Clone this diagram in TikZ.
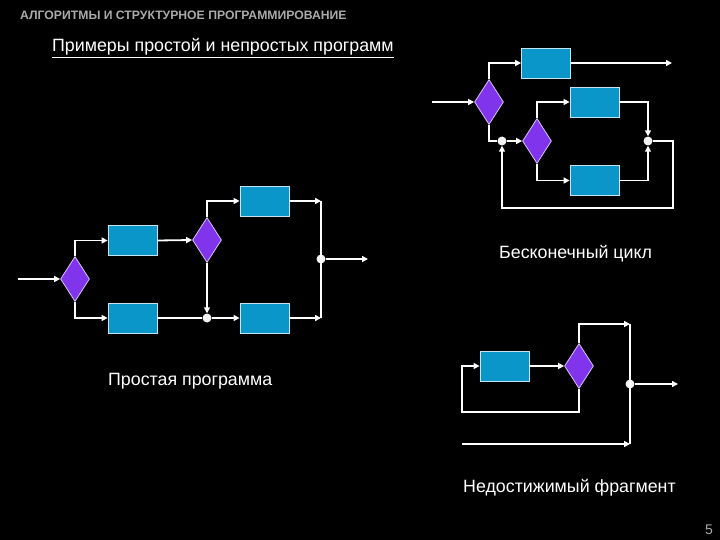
\documentclass[tikz,border=0pt]{standalone}
\usepackage{fontspec}
\setmainfont{Liberation Sans}
\usetikzlibrary{shapes.geometric,arrows.meta}
\definecolor{boxc}{RGB}{10,150,200}
\definecolor{diac}{RGB}{128,52,235}
\definecolor{titc}{RGB}{170,170,170}
\begin{document}
\begin{tikzpicture}[x=1pt,y=-1pt,
  line/.style={draw=white,line width=1.8pt},
  arr/.style={line,-{Triangle[length=6pt,width=6pt]}},
  blk/.style={draw=white!75!boxc,line width=0.8pt,fill=boxc,minimum width=49pt,minimum height=30pt,inner sep=0pt},
  dia/.style={diamond,draw=white!70!diac,line width=0.8pt,fill=diac,minimum width=29pt,minimum height=45pt,inner sep=0pt},
  dot/.style={circle,fill=white!90!gray,minimum size=9pt,inner sep=0pt},
  lbl/.style={text=white,font=\fontsize{17.8}{20}\selectfont,inner sep=0pt,anchor=west}]
\fill[black] (0,0) rectangle (720,540);
\useasboundingbox (0,0) rectangle (720,540);
% titles
\node[anchor=west,inner sep=0pt,text=titc,font=\bfseries\fontsize{12.2}{14}\selectfont] (title) at (20,15) {АЛГОРИТМЫ И СТРУКТУРНОЕ ПРОГРАММИРОВАНИЕ};
\node[anchor=west,inner sep=0pt,text=white,font=\fontsize{17.8}{20}\selectfont] (sub) at (52,47) {Примеры простой и непростых программ};
\draw[white,line width=0.8pt] ([yshift=-1.5pt]sub.south west) -- ([yshift=-1.5pt]sub.south east);
% ---------- simple program ----------
\node[dia] (dA) at (75,279) {};
\node[blk] (b1) at (132.5,240.5) {};
\node[blk] (b2) at (132.5,318) {};
\node[dia] (dB) at (207,240) {};
\node[blk] (b3) at (264.5,201) {};
\node[blk] (b4) at (264.5,318) {};
\node[dot] (j1) at (207,318) {};
\node[dot] (j2) at (321,259) {};
\coordinate (in1) at (18,279);
\coordinate (bt) at (321,201);
\coordinate (bb) at (321,318);
\coordinate (out1) at (368,259);
\draw[arr] (in1) -- (dA.west);
\draw[arr] (dA.north) |- (b1.west);
\draw[arr] (dA.south) |- (b2.west);
\draw[arr] (b1.east) -- (dB.west);
\draw[arr] (dB.north) |- (b3.west);
\draw[arr] (dB.south) -- (j1.north);
\draw[line] (b2.east) -- (j1);
\draw[arr] (j1) -- (b4.west);
\draw[line] (bt) -- (bb);
\draw[arr] (b3.east) -- (bt);
\draw[arr] (b4.east) -- (bb);
\draw[arr] (j2) -- (out1);
\node[lbl] (l1) at (108,381) {Простая программа};
% ---------- infinite loop ----------
\node[dia] (dC) at (489,102) {};
\node[blk] (t1) at (546,63) {};
\node[blk] (t2) at (594.5,102) {};
\node[blk] (t3) at (594.5,180.5) {};
\node[dia] (dD) at (537,141) {};
\node[dot] (j3) at (502,141) {};
\node[dot] (j4) at (648,141) {};
\coordinate (in2) at (432,102);
\coordinate (out2) at (672,63);
\coordinate (c1) at (673,208);
\draw[arr] (in2) -- (dC.west);
\draw[arr] (dC.north) |- (t1.west);
\draw[arr] (t1.east) -- (out2);
\draw[line] (dC.south) |- (j3);
\draw[arr] (j3) -- (dD.west);
\draw[arr] (dD.north) |- (t2.west);
\draw[arr] (dD.south) |- (t3.west);
\draw[arr] (t2.east) -| (j4.north);
\draw[arr] (t3.east) -| (j4.south);
\draw[arr] (j4) -| (c1) -| (j3.south);
\node[lbl] (l2) at (499,254) {Бесконечный цикл};
% ---------- unreachable fragment ----------
\node[blk] (u1) at (504.5,366) {};
\node[dia] (dE) at (579,366) {};
\node[dot] (j5) at (630,384) {};
\coordinate (ut) at (630,324);
\coordinate (ub) at (630,444);
\coordinate (ul) at (462,444);
\coordinate (c3) at (462,412);
\coordinate (out3) at (678,384);
\draw[arr] (u1.east) -- (dE.west);
\draw[arr] (dE.north) |- (ut);
\draw[arr] (dE.south) |- (c3) |- (u1.west);
\draw[line] (ut) -- (ub);
\draw[arr] (ul) -- (ub);
\draw[arr] (j5) -- (out3);
\node[lbl] (l3) at (463,488) {Недостижимый фрагмент};
% page number
\node[text=titc,font=\fontsize{14}{16}\selectfont,inner sep=0pt] (pg) at (709,530) {5};
\end{tikzpicture}
\end{document}
